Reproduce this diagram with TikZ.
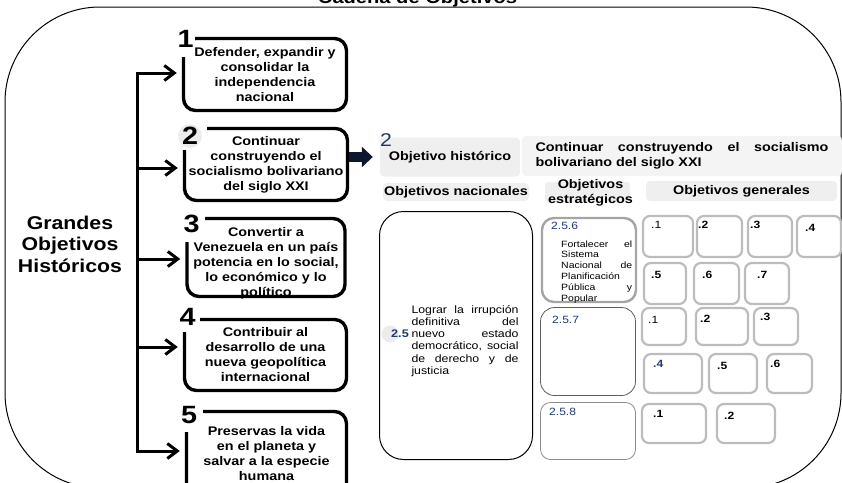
\documentclass[tikz,border=0pt]{standalone}
\usepackage{fontspec}
\setmainfont[FakeStretch=1.15]{Liberation Sans}
\usetikzlibrary{arrows.meta,calc}
\definecolor{navy}{RGB}{31,56,112}
\definecolor{navyd}{RGB}{12,22,48}
\definecolor{hdrgray}{RGB}{239,239,239}
\definecolor{hdrlight}{RGB}{244,244,244}
\definecolor{gboxc}{RGB}{188,188,188}
\definecolor{sboxa}{RGB}{165,165,165}
\definecolor{sboxb}{RGB}{95,95,95}
\definecolor{sboxc}{RGB}{140,140,140}
\definecolor{circgray}{RGB}{236,236,236}
\newcommand{\fs}[2]{\fontsize{#1}{#2}\selectfont}
\newcommand{\jl}[2]{\makebox[#1][s]{#2}}
\tikzset{
  bigbox/.style={draw, line width=3.4pt, rounded corners=12pt, inner sep=0pt, align=center, font=\bfseries\fs{12.5}{15}},
  boxtext/.style={inner sep=0pt, align=center, font=\bfseries\fs{12.5}{15}},
  numpatch/.style={fill=white, inner sep=0pt, text depth=6pt, font=\bfseries\fs{25}{25}},
  conn/.style={line width=3pt, -{Straight Barb[length=10pt,width=15pt]}, shorten >=5pt},
  spine/.style={line width=3pt, line cap=rect},
  hdr/.style={fill=hdrgray, rounded corners=4pt, inner sep=0pt},
  hdrtext/.style={font=\bfseries\fs{12.5}{15}, align=center, inner sep=0pt},
  gbox/.style={draw=gboxc, line width=2.2pt, rounded corners=7pt, inner sep=0pt},
  glbl/.style={anchor=base west, inner sep=0pt, font=\bfseries\fs{10.5}{12}},
  glblr/.style={anchor=base west, inner sep=0pt, font=\fs{10.5}{12}},
  slbl/.style={anchor=base west, inner sep=0pt, text=navy, font=\fs{10.5}{12}},
}
\begin{document}
\begin{tikzpicture}[x=1pt,y=-1pt]
\useasboundingbox (0,0) rectangle (842,482);
\clip (0,0) rectangle (842,482);
% frame and title
\draw[line width=1pt, rounded corners=95pt] (5,7) rectangle (841,488);
\node[anchor=base, inner sep=0pt, font=\bfseries\fs{17.5}{20}] (title) at (417.5,3) {Cadena de Objetivos};
% left label
\node[inner sep=0pt, align=center, font=\bfseries\fs{18.5}{21.5}] (gh) at (70,244) {Grandes\\Objetivos\\Históricos};
% big boxes
\node[bigbox, minimum width=163pt, minimum height=72pt] (b1) at (265,74.5) {Defender, expandir y\\consolidar la\\independencia\\nacional};
\node[bigbox, minimum width=163pt, minimum height=72pt] (b2) at (266,164.5) {Continuar\\construyendo el\\socialismo bolivariano\\del siglo XXI};
\node[bigbox, minimum width=158pt, minimum height=78pt] (b3) at (266,257.5) {};
\node[boxtext] (t3) at (266,263) {Convertir a\\Venezuela en un país\\potencia en lo social,\\lo económico y lo\\político};
\node[bigbox, minimum width=162pt, minimum height=71pt] (b4) at (265.5,355) {Contribuir al\\desarrollo de una\\nueva geopolítica\\internacional};
\node[bigbox, minimum width=160pt, minimum height=84pt] (b5) at (266.5,453.5) {Preservas la vida\\en el planeta y\\salvar a la especie\\humana};
% numbers
\node[numpatch, minimum width=18pt, minimum height=30pt] (n1) at (185.5,42) {1};
\fill[white] (179,121) rectangle (207,150);
\node[circle, fill=circgray, inner sep=0pt, minimum size=21pt, font=\bfseries\fs{25}{25}] (n2) at (190,136) {2};
\node[numpatch, minimum width=27pt, minimum height=30pt] (n3) at (191.5,227) {3};
\node[numpatch, minimum width=25pt, minimum height=24pt] (n4) at (187.5,320) {4};
\node[numpatch, minimum width=28pt, minimum height=28pt] (n5) at (189,418) {5};
% spine and arrows
\coordinate (c1) at (137,73);
\coordinate (c2) at (137,168);
\coordinate (c3) at (137,259);
\coordinate (c4) at (137,347);
\coordinate (c5) at (137,451);
\draw[spine] (c1) -- (c5);
\draw[conn] (c1) -- (c1 -| b1.west);
\draw[conn] (c2) -- (c2 -| b2.west);
\draw[conn] (c3) -- (c3 -| b3.west);
\draw[conn] (c4) -- (c4 -| b4.west);
\draw[conn] (c5) -- (c5 -| b5.west);
% headers
\node[hdr, minimum width=140pt, minimum height=39pt, font=\bfseries\fs{12.5}{15}] (oh) at (450,157) {Objetivo histórico};
\node[hdr, fill=hdrlight, minimum width=320pt, minimum height=40pt, font=\bfseries\fs{12.5}{15}] (ot) at (682,156) {\parbox{293pt}{\jl{293pt}{Continuar construyendo el socialismo}\\bolivariano del siglo XXI}};
\node[inner sep=0pt, text=navy, font=\fs{18.5}{20}] (n2r) at (386,140) {2};
\draw[navyd, line width=10pt, -{Triangle[length=11pt,width=20pt]}, shorten >=7pt] (b2.east |- oh.west) -- (oh.west);
\node[hdr, minimum width=146pt, minimum height=18pt, font=\bfseries\fs{12.5}{15}] (onac) at (456,192) {Objetivos nacionales};
\fill[hdrgray, rounded corners=3pt] (545,182) rectangle (630,202);
\node[hdrtext] (oest) at (590.5,192.5) {Objetivos\\estratégicos};
\node[hdr, minimum width=191pt, minimum height=20pt, font=\bfseries\fs{12.5}{15}] (ogen) at (741.5,191) {Objetivos generales};
% national objective
\node[draw, line width=1pt, rounded corners=24pt, minimum width=153pt, minimum height=248pt, inner sep=0pt] (onb) at (456,335.5) {};
\node[circle, fill=circgray, minimum size=17pt, inner sep=0pt] (c25) at (390,334) {};
\node[inner sep=0pt, text=navy, font=\bfseries\fs{11}{12}] (l25) at (400,334) {2.5};
\node[inner sep=0pt, font=\fs{10.7}{12.3}] (onbt) at (465,341) {\parbox{107pt}{\jl{107pt}{Lograr la irrupción}\\\jl{107pt}{definitiva del}\\\jl{107pt}{nuevo estado}\\\jl{107pt}{democrático, social}\\\jl{107pt}{de derecho y de}\\justicia}};
% strategic objectives
\node[draw=sboxa, line width=2.4pt, rounded corners=12pt, minimum width=94pt, minimum height=84pt, inner sep=0pt] (s256) at (589,260) {};
\node[slbl] (l256) at (551,229) {2.5.6};
\node[anchor=base west, inner sep=0pt, font=\fs{9.1}{10.8}] (t256) at (561,247) {\parbox[t]{71pt}{\jl{71pt}{Fortalecer el}\\Sistema\\\jl{71pt}{Nacional de}\\Planificación\\\jl{71pt}{Pública y}\\Popular}};
\node[draw=sboxb, line width=0.8pt, rounded corners=14pt, minimum width=95pt, minimum height=88pt, inner sep=0pt] (s257) at (588,351.5) {};
\node[slbl] (l257) at (552,323) {2.5.7};
\node[draw=sboxc, line width=0.8pt, rounded corners=10pt, minimum width=95pt, minimum height=57pt, inner sep=0pt] (s258) at (588,431) {};
\node[slbl] (l258) at (549,415) {2.5.8};
% general objectives
\node[gbox, minimum width=50pt, minimum height=41pt] (g1a) at (668,236.5) {};
\node[gbox, minimum width=45pt, minimum height=41pt] (g1b) at (719.5,236.5) {};
\node[gbox, minimum width=44pt, minimum height=41pt] (g1c) at (770,236.5) {};
\node[gbox, minimum width=44pt, minimum height=41pt] (g1d) at (819,236.5) {};
\node[glblr] (k1a) at (651,228) {.1};
\node[glbl] (k1b) at (698,228) {.2};
\node[glbl] (k1c) at (750,228) {.3};
\node[glbl] (k1d) at (805,231) {.4};
\node[gbox, minimum width=42pt, minimum height=41pt] (g2a) at (665,283.5) {};
\node[gbox, minimum width=45pt, minimum height=41pt] (g2b) at (716.5,283.5) {};
\node[gbox, minimum width=44pt, minimum height=41pt] (g2c) at (767,283.5) {};
\node[glbl] (k2a) at (651,278) {.5};
\node[glbl] (k2b) at (702,278) {.6};
\node[glbl] (k2c) at (757,278) {.7};
\node[gbox, minimum width=44pt, minimum height=37pt] (g3a) at (664,326.5) {};
\node[gbox, minimum width=52pt, minimum height=37pt] (g3b) at (722,326.5) {};
\node[gbox, minimum width=44pt, minimum height=37pt] (g3c) at (776,326.5) {};
\node[glblr] (k3a) at (648,323) {.1};
\node[glbl] (k3b) at (700,322) {.2};
\node[glbl] (k3c) at (760,320) {.3};
\node[gbox, minimum width=58pt, minimum height=39pt] (g4a) at (673,373.5) {};
\node[gbox, minimum width=48pt, minimum height=39pt] (g4b) at (733,373.5) {};
\node[gbox, minimum width=45pt, minimum height=39pt] (g4c) at (789.5,373.5) {};
\node[glbl, text=navy] (k4a) at (653,367) {.4};
\node[glbl] (k4b) at (717,369) {.5};
\node[glbl] (k4c) at (770,367) {.6};
\node[gbox, minimum width=64pt, minimum height=39pt] (g5a) at (674,423.5) {};
\node[gbox, minimum width=58pt, minimum height=39pt] (g5b) at (746,423.5) {};
\node[glbl] (k5a) at (653,417) {.1};
\node[glbl] (k5b) at (724,419) {.2};
\end{tikzpicture}
\end{document}
